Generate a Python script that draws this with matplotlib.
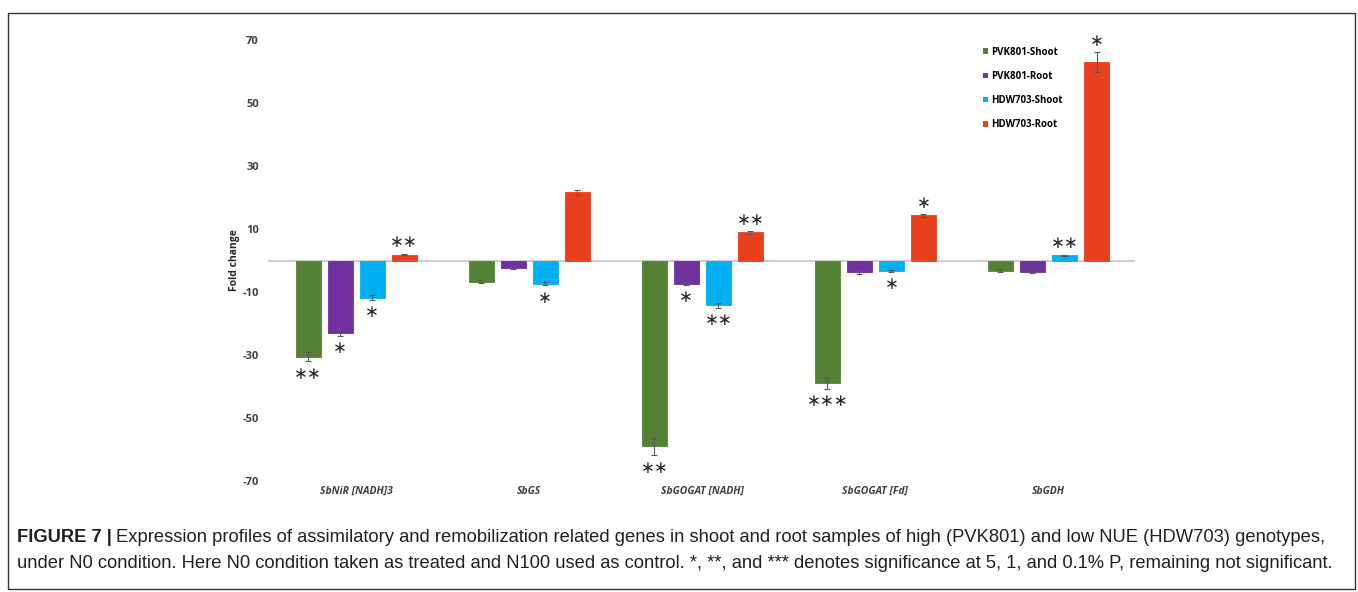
import matplotlib
matplotlib.use('Agg')
import matplotlib.pyplot as plt
import numpy as np
from matplotlib.patches import Rectangle, Patch

plt.rcParams['axes.unicode_minus'] = False

genes = ['SbNiR [NADH]3', 'SbGS', 'SbGOGAT [NADH]', 'SbGOGAT [Fd]', 'SbGDH']
series = ['PVK801-Shoot', 'PVK801-Root', 'HDW703-Shoot', 'HDW703-Root']
colors = ['#548235', '#7030A0', '#00B0F0', '#E8401C']

# fold change (N0 vs N100) per series, one value per gene
pvk_shoot = [-30.5, -6.7, -59.0, -39.0, -3.2]
pvk_root = [-22.9, -2.5, -7.3, -3.8, -3.5]
hdw_shoot = [-11.8, -7.3, -14.2, -3.2, 1.6]
hdw_root = [1.9, 21.6, 8.9, 14.3, 63.0]

pvk_shoot_err = [1.5, 0.5, 2.8, 1.7, 0.4]
pvk_root_err = [1.0, 0.3, 0.4, 0.4, 0.4]
hdw_shoot_err = [0.7, 0.5, 0.8, 0.3, 0.3]
hdw_root_err = [0.3, 0.8, 0.5, 0.4, 3.3]

pvk_shoot_sig = ['**', '', '**', '***', '']
pvk_root_sig = ['*', '', '*', '', '']
hdw_shoot_sig = ['*', '*', '**', '*', '**']
hdw_root_sig = ['**', '', '**', '*', '*']

values = [pvk_shoot, pvk_root, hdw_shoot, hdw_root]
errors = [pvk_shoot_err, pvk_root_err, hdw_shoot_err, hdw_root_err]
sigs = [pvk_shoot_sig, pvk_root_sig, hdw_shoot_sig, hdw_root_sig]

fig = plt.figure(figsize=(13.58, 5.92), dpi=100)
ax = fig.add_axes([0.1973, 0.1875, 0.6385, 0.7449])

x = np.arange(len(genes))
step = 0.185
width = 0.145
for i, (vals, errs, sg) in enumerate(zip(values, errors, sigs)):
    xs = x + (i - 1.5) * step
    ax.bar(xs, vals, width, color=colors[i], edgecolor=colors[i], linewidth=0.6,
           label=series[i], zorder=3)
    ax.errorbar(xs, vals, yerr=errs, fmt='none', ecolor='#595959', elinewidth=0.8,
                capsize=2.5, capthick=0.8, zorder=4)
    for xi, v, e, s in zip(xs, vals, errs, sg):
        if not s:
            continue
        tip = v + e if v >= 0 else v - e
        off = 8 if v >= 0 else -9
        ax.annotate('\u2217' * len(s), (xi, tip), xytext=(0, off), textcoords='offset points',
                    ha='center', va='center', fontsize=12, color='#262626',
                    family='DejaVu Sans')

ax.axhline(0, color='#d0d0d0', linewidth=1.5, zorder=2)
ax.set_xlim(-0.51, 4.5)
ax.set_ylim(-70, 70)
ax.set_yticks(np.arange(-70, 71, 20))
ax.set_xticks([])
for sp in ax.spines.values():
    sp.set_visible(False)
ax.tick_params(axis='y', length=0, pad=6.5, labelsize=8, labelcolor='#404040')
for lbl in ax.get_yticklabels():
    lbl.set_fontweight('bold')
    lbl.set_family('Open Sans')
ax.set_ylabel('Fold change', fontsize=7.5, fontweight='bold', family='Open Sans',
              color='#262626', labelpad=2)

for xi, g in zip(x, genes):
    ax.text(xi, -73.2, g, ha='center', va='center', fontsize=7.5, fontweight='bold',
            style='italic', family='Open Sans', color='#404040')

handles = [Patch(facecolor=c, edgecolor='none') for c in colors]
ax.legend(handles, series, loc='upper left', bbox_to_anchor=(974 / 1358, 1 - 38 / 592),
          bbox_transform=fig.transFigure, frameon=False, handlelength=0.55,
          handleheight=0.55, handletextpad=0.3, labelspacing=1.35,
          prop={'family': 'Open Sans', 'weight': 'bold', 'size': 7})

# panel border
fig.add_artist(Rectangle((8 / 1358, 3 / 592), 1347 / 1358, 576 / 592, transform=fig.transFigure,
                         fill=False, edgecolor='#333333', linewidth=1.0))

cap_font = ['Liberation Sans', 'DejaVu Sans']
cap_size = 13.2
t1 = fig.text(17 / 1358, 1 - 537 / 592, 'FIGURE 7 |', fontsize=cap_size, fontweight='bold',
              family=cap_font, va='center', color='#231f20')
fig.canvas.draw()
bb = t1.get_window_extent()
fig.text((bb.x1 + 4) / 1358, 1 - 537 / 592,
         'Expression profiles of assimilatory and remobilization related genes in shoot and root '
         'samples of high (PVK801) and low NUE (HDW703) genotypes,',
         fontsize=cap_size, family=cap_font, va='center', color='#231f20')
fig.text(17 / 1358, 1 - 563 / 592,
         'under N0 condition. Here N0 condition taken as treated and N100 used as control. *, **, '
         'and *** denotes significance at 5, 1, and 0.1% P, remaining not significant.',
         fontsize=cap_size, family=cap_font, va='center', color='#231f20')

fig.savefig('out.png', dpi=100)
